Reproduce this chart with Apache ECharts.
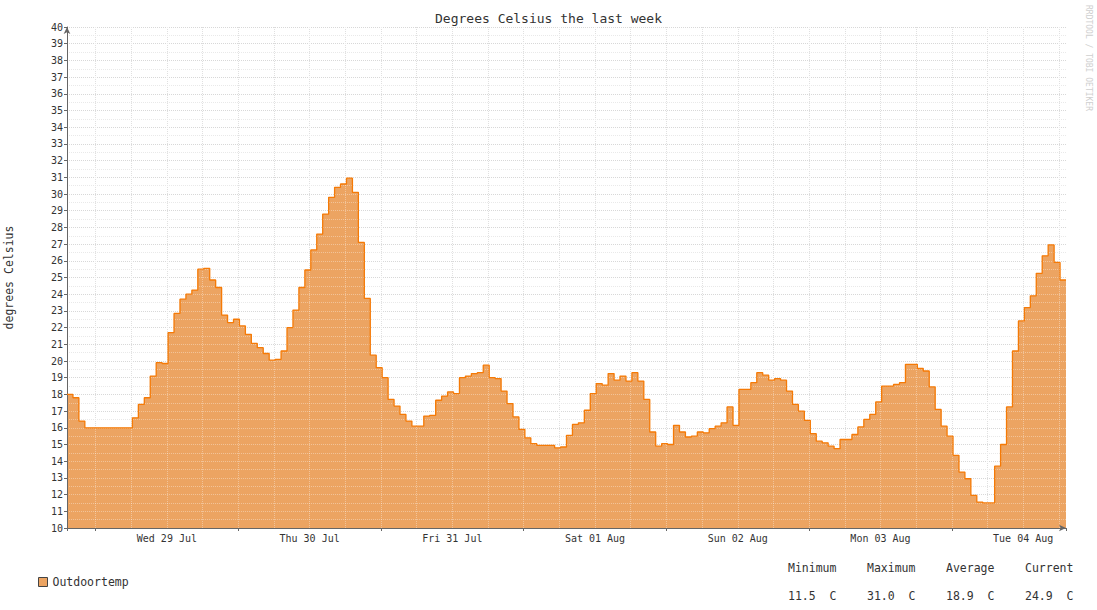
<!DOCTYPE html>
<html>
<head>
<meta charset="utf-8">
<title>Degrees Celsius the last week</title>
<script src="https://cdn.jsdelivr.net/npm/echarts@6/dist/echarts.min.js"></script>
<style>
html, body { margin: 0; padding: 0; background: #fff; }
#chart { width: 1097px; height: 610px; }
</style>
</head>
<body>
<div id="chart"></div>
<script>
// hourly outdoor temperature (C)
var temps1 = [18.0, 17.8, 16.4, 16.0, 16.0, 16.0, 16.0, 16.0, 16.0, 16.0, 16.0, 16.6,
              17.4, 17.8, 19.1, 19.9, 19.85, 21.7, 22.85, 23.7, 24.0, 24.25, 25.5, 25.55];
var temps2 = [24.85, 24.4, 22.75, 22.3, 22.5, 22.1, 21.6, 21.05, 20.8, 20.45, 20.05, 20.1,
              20.6, 22.0, 23.05, 24.4, 25.45, 26.65, 27.6, 28.8, 29.8, 30.4, 30.6, 30.95];
var temps3 = [30.1, 27.1, 23.75, 20.35, 19.6, 19.0, 17.7, 17.3, 16.8, 16.4, 16.1, 16.1,
              16.7, 16.75, 17.65, 17.9, 18.15, 18.05, 19.0, 19.1, 19.25, 19.3, 19.75, 19.0];
var temps4 = [18.95, 18.2, 17.45, 16.65, 15.9, 15.4, 15.05, 14.95, 14.95, 14.95, 14.8, 14.85,
              15.55, 16.2, 16.3, 17.05, 18.05, 18.65, 18.55, 19.25, 18.85, 19.1, 18.8, 19.3];
var temps5 = [18.8, 17.7, 15.75, 14.9, 15.05, 15.0, 16.15, 15.75, 15.45, 15.5, 15.75, 15.7,
              15.95, 16.1, 16.3, 17.25, 16.15, 18.3, 18.3, 18.7, 19.3, 19.15, 18.85, 18.95];
var temps6 = [18.85, 18.2, 17.4, 17.0, 16.45, 15.65, 15.2, 15.1, 14.9, 14.75, 15.3, 15.3,
              15.6, 16.05, 16.5, 16.8, 17.55, 18.5, 18.5, 18.6, 18.7, 19.8, 19.8, 19.55];
var temps7 = [19.4, 18.45, 17.1, 16.1, 15.5, 14.35, 13.35, 12.95, 11.95, 11.55, 11.5, 11.5,
              13.7, 15.0, 17.25, 20.6, 22.4, 23.2, 23.9, 25.25, 26.3, 26.95, 25.9, 24.85];

// graph starts Tue 28 Jul 19:12 (hours counted from Tue 28 00:00)
var startHour = 19.2;
var spanHours = 168;

var dayLabels = ['Wed 29 Jul', 'Thu 30 Jul', 'Fri 31 Jul', 'Sat 01 Aug',
                 'Sun 02 Aug', 'Mon 03 Aug', 'Tue 04 Aug'];

var statNames = ['Minimum', 'Maximum', 'Average', 'Current'];
var statValues = ['11.5', '31.0', '18.9', '24.9'];

var mono = 'DejaVu Sans Mono';
var fillColor = '#eca462';
var lineColor = '#f57a06';
var gridOver = 'rgba(255,255,255,0.35)';

var temps = [].concat(temps1, temps2, temps3, temps4, temps5, temps6, temps7);
var points = temps.map(function (v, i) { return [startHour + i, v]; });
points.push([startHour + temps.length, temps[temps.length - 1]]);

var texts = [];
statNames.forEach(function (n, i) {
    texts.push({
        type: 'text', x: 788 + 79 * i, y: 568,
        style: { text: n, font: '11.5px "' + mono + '"', fill: '#333', textVerticalAlign: 'middle' }
    });
    texts.push({
        type: 'text', x: 788 + 79 * i, y: 596,
        style: { text: statValues[i] + '  C', font: '11.5px "' + mono + '"', fill: '#333', textVerticalAlign: 'middle' }
    });
});
texts.push({
    type: 'text', x: 1088, y: 5, rotation: -Math.PI / 2,
    style: { text: 'RRDTOOL / TOBI OETIKER', font: '8px "' + mono + '"', fill: '#cfcfcf', textVerticalAlign: 'middle' }
});

function hidden(extra) {
    var a = { axisLine: { show: false }, axisTick: { show: false }, axisLabel: { show: false } };
    for (var k in extra) a[k] = extra[k];
    return a;
}

var myChart = echarts.init(document.getElementById('chart'), null, { renderer: 'svg' });
var option = {
    backgroundColor: '#fff',
    animation: false,
    title: {
        text: 'Degrees Celsius the last week',
        left: 'center', top: 12, padding: 0,
        textStyle: { fontFamily: mono, fontSize: 13, fontWeight: 'normal', color: '#333' }
    },
    legend: {
        data: ['Outdoortemp'],
        left: 38, top: 576, padding: 0,
        icon: 'rect', itemWidth: 9, itemHeight: 9,
        itemStyle: { borderColor: '#444', borderWidth: 1 },
        textStyle: { fontFamily: mono, fontSize: 11.5, color: '#333' }
    },
    grid: { left: 67, right: 31, top: 27, bottom: 82, containLabel: false, outerBoundsMode: 'none' },
    xAxis: [{
        // data axis: line, arrow and midnight ticks
        type: 'value', position: 'bottom', z: 3,
        min: startHour, max: startHour + spanHours,
        minInterval: 24, maxInterval: 24,
        axisLine: { show: true, symbol: ['none', 'arrow'], symbolSize: [5, 7],
                    lineStyle: { color: '#666', width: 1 } },
        axisTick: { show: true, length: 3, lineStyle: { color: '#666' } },
        axisLabel: { show: false },
        splitLine: { show: false }
    }, hidden({
        // 6 hour grid under the area
        type: 'value', position: 'top', z: 0,
        min: startHour, max: startHour + spanHours,
        minInterval: 6, maxInterval: 6,
        splitLine: { show: true, showMinLine: false, showMaxLine: false,
                     lineStyle: { color: '#cfcfcf', type: [1, 1] } }
    }), {
        // day labels centred on noon
        type: 'value', position: 'bottom', z: 3,
        min: startHour - 12, max: startHour - 12 + spanHours,
        minInterval: 24, maxInterval: 24,
        axisLine: { show: false }, axisTick: { show: false }, splitLine: { show: false },
        axisLabel: {
            show: true, margin: 5, showMinLabel: false, showMaxLabel: false,
            fontFamily: mono, fontSize: 10, color: '#333',
            formatter: function (v) { return dayLabels[Math.round(v / 24) - 1] || ''; }
        }
    }, hidden({
        // 6 hour grid drawn over the area
        type: 'value', position: 'top', z: 3,
        min: startHour, max: startHour + spanHours,
        minInterval: 6, maxInterval: 6,
        splitLine: { show: true, showMinLine: false, showMaxLine: false,
                     lineStyle: { color: gridOver, type: [1, 1] } }
    })],
    yAxis: [{
        type: 'value', z: 3,
        min: 10, max: 40, interval: 1,
        name: 'degrees Celsius', nameLocation: 'middle', nameGap: 52, nameRotate: 90,
        nameTextStyle: { fontFamily: mono, fontSize: 11.5, color: '#333' },
        axisLine: { show: true, symbol: ['none', 'arrow'], symbolSize: [5, 7],
                    lineStyle: { color: '#666', width: 1 } },
        axisTick: { show: true, length: 3, lineStyle: { color: '#666' } },
        axisLabel: { margin: 4, fontFamily: mono, fontSize: 10, color: '#333' },
        splitLine: { show: false }
    }, hidden({
        type: 'value', position: 'right', z: 0,
        min: 10, max: 40, interval: 1,
        minorTick: { show: false, splitNumber: 2 },
        splitLine: { show: true, lineStyle: { color: '#c4c4c4', type: [1, 1] } },
        minorSplitLine: { show: true, lineStyle: { color: '#dedede', type: [1, 1] } }
    }), hidden({
        type: 'value', position: 'right', z: 3,
        min: 10, max: 40, interval: 1,
        minorTick: { show: false, splitNumber: 2 },
        splitLine: { show: true, lineStyle: { color: gridOver, type: [1, 1] } },
        minorSplitLine: { show: true, lineStyle: { color: gridOver, type: [1, 1] } }
    })],
    series: [{
        name: 'Outdoortemp', type: 'line', step: 'end', z: 1,
        xAxisIndex: 0, yAxisIndex: 0,
        data: points, symbol: 'none', silent: true,
        itemStyle: { color: fillColor },
        lineStyle: { width: 0 },
        areaStyle: { color: fillColor, opacity: 1, origin: 'start' }
    }, {
        name: 'line', type: 'line', step: 'end', z: 5,
        xAxisIndex: 0, yAxisIndex: 0,
        data: points, symbol: 'none', silent: true,
        lineStyle: { color: lineColor, width: 1.3 }
    }],
    graphic: texts
};
myChart.setOption(option);
</script>
</body>
</html>
